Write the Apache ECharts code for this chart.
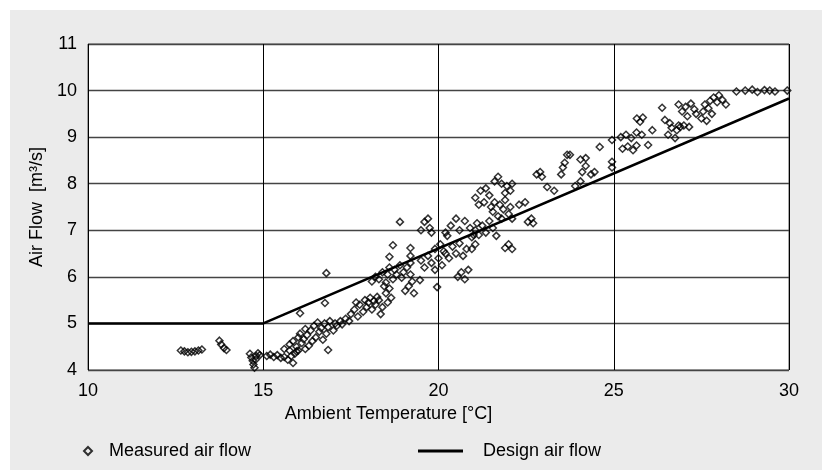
<!DOCTYPE html>
<html>
<head>
<meta charset="utf-8">
<script src="https://cdn.jsdelivr.net/npm/echarts@6/dist/echarts.min.js"></script>
<style>
html,body{margin:0;padding:0;background:#fff;}
#chart{width:822px;height:470px;}
</style>
</head>
<body>
<div id="chart"></div>
<script>
// Measured air flow: [ambient temperature °C, air flow m3/s]
const measuredAirFlow = [
  [12.65,4.42],[12.75,4.40],[12.85,4.38],[12.95,4.39],[13.05,4.40],[13.15,4.42],[13.25,4.44],
  [13.75,4.63],[13.8,4.55],[13.88,4.47],[13.95,4.43],
  [14.62,4.35],[14.66,4.27],[14.7,4.20],[14.72,4.12],[14.75,4.05],[14.8,4.30],[14.85,4.36],[14.9,4.32],[14.78,4.22],
  [15.1,4.30],[15.2,4.33],[15.3,4.28],[15.4,4.32],[15.5,4.26],[15.6,4.28],[15.7,4.22],[15.8,4.30],[15.9,4.35],[15.85,4.15],[15.95,4.40],[15.75,4.42],[15.6,4.45],
  [15.75,4.55],[15.85,4.62],[15.95,4.50],[16.0,4.70],[16.05,4.78],[16.1,4.58],[16.15,4.66],[16.2,4.45],[16.25,4.75],[16.3,4.52],[16.35,4.85],[16.4,4.62],[16.0,4.42],[16.2,4.88],
  [16.45,4.95],[16.5,4.70],[16.55,5.02],[16.6,4.82],[16.65,4.90],[16.7,4.65],[16.75,5.00],[16.8,4.78],[16.85,4.92],[16.9,5.05],[17.0,4.85],[17.05,5.00],[17.1,4.95],[17.2,5.05],[17.25,4.98],[17.35,5.10],[17.45,5.05],[16.85,4.43],[16.05,5.22],[16.76,5.44],[16.8,6.08],
  [17.5,5.20],[17.6,5.30],[17.7,5.15],[17.75,5.40],[17.85,5.25],[17.9,5.50],[17.95,5.35],[18.0,5.45],[18.05,5.55],[18.1,5.30],[18.15,5.48],[18.2,5.40],[18.25,5.57],[18.3,5.50],[17.65,5.45],[18.35,5.20],
  [18.1,5.90],[18.2,6.00],[18.3,5.95],[18.4,6.10],[18.5,5.88],[18.55,6.05],[18.6,6.20],[18.7,5.95],[18.75,6.15],[18.8,6.05],[18.9,6.25],[18.95,5.98],[19.0,6.10],[19.1,6.20],[19.2,6.05],[19.2,6.30],[19.2,6.45],[19.2,6.62],[19.25,5.90],
  [18.45,5.80],[18.5,5.65],[18.55,5.45],[18.6,5.75],[18.65,5.55],[18.4,5.35],[19.05,5.70],[19.15,5.80],[19.3,5.65],
  [18.9,7.18],[18.7,6.68],[18.6,6.43],[19.47,5.93],[19.96,5.78],
  [19.5,7.00],[19.6,7.18],[19.7,7.25],[19.75,7.05],[19.8,6.95],
  [20.2,6.95],[20.35,7.10],[20.5,7.25],[20.6,7.00],[20.75,7.20],[20.9,7.05],[21.0,6.90],[21.1,7.15],[20.25,6.88],
  [19.5,6.35],[19.6,6.20],[19.7,6.45],[19.8,6.30],[19.9,6.15],[20.0,6.40],[20.1,6.25],[20.2,6.50],
  [19.9,6.60],[20.05,6.70],[20.15,6.55],[20.3,6.40],[20.4,6.65],[20.5,6.50],[20.6,6.72],[20.7,6.45],[20.8,6.60],
  [20.55,6.00],[20.65,6.10],[20.75,5.95],[20.85,6.15],
  [20.95,6.85],[21.05,7.00],[21.15,6.90],[21.25,7.10],[21.35,6.95],[21.45,7.20],[21.55,7.05],[21.65,6.88],
  [20.95,6.60],[21.05,6.70],[21.9,6.62],[22.0,6.70],[22.1,6.60],
  [21.05,7.70],[21.15,7.55],[21.2,7.85],[21.3,7.60],[21.35,7.90],[21.45,7.75],[21.5,7.50],
  [21.55,7.40],[21.6,7.60],[21.7,7.30],[21.75,7.55],[21.8,7.25],[21.85,7.45],[21.9,7.65],[22.0,7.35],[22.05,7.50],[22.1,7.25],
  [21.6,8.05],[21.7,8.15],[21.8,8.00],
  [21.9,7.80],[21.95,7.95],[22.05,7.85],[22.1,8.00],
  [23.1,7.93],[22.47,7.60],[22.55,7.18],[22.65,7.25],[22.7,7.15],
  [22.8,8.20],[22.9,8.25],[22.95,8.15],
  [23.5,8.20],[23.55,8.35],[23.6,8.45],[23.67,8.62],
  [22.3,7.55],[23.3,7.85],[23.9,7.95],
  [23.75,8.62],[24.05,8.52],[24.2,8.55],[24.05,8.05],[24.1,8.25],[24.2,8.38],[24.35,8.20],[24.45,8.25],[24.95,8.35],[24.95,8.47],[24.6,8.79],[24.95,8.94],
  [25.2,9.00],[25.35,9.05],[25.5,8.98],[25.65,9.10],[25.8,9.05],[25.25,8.75],[25.4,8.80],[25.55,8.72],[25.65,8.82],[25.98,8.83],[25.66,9.40],[25.75,9.33],[25.83,9.42],[26.1,9.15],
  [26.38,9.63],[26.46,9.37],[26.55,9.05],[26.65,9.20],[26.75,8.98],[26.85,9.25],[26.6,9.30],[26.8,9.15],
  [26.85,9.70],[26.95,9.55],[27.05,9.65],[27.1,9.45],[27.2,9.72],[27.3,9.60],[27.35,9.50],[26.9,9.22],[27.0,9.25],[27.15,9.22],
  [27.5,9.40],[27.55,9.55],[27.6,9.70],[27.65,9.35],[27.7,9.62],[27.75,9.78],[27.8,9.50],
  [27.85,9.85],[27.95,9.75],[28.0,9.90],[28.1,9.80],[28.2,9.70],
  [28.5,9.98],[28.75,10.0],[28.95,10.02],[29.1,9.97],[29.3,10.01],[29.45,10.0],[29.6,9.98],[29.95,10.0]
];
// Design air flow: [ambient temperature °C, air flow m3/s]
const designAirFlow = [[10,5],[15,5],[30,9.83]];
const xTicks = [10, 15, 20, 25, 30];
const yTicks = [4, 5, 6, 7, 8, 9, 10, 11];
const seriesNames = ['Measured air flow', 'Design air flow'];

const font = 'Liberation Sans, Arial, sans-serif';
const FS = 18;
const chart = echarts.init(document.getElementById('chart'), null, {renderer: 'canvas'});
chart.setOption({
  backgroundColor: '#ffffff',
  animation: false,
  textStyle: {fontFamily: font},
  graphic: [{
    type: 'rect', left: 10, top: 10, z: -100, silent: true,
    shape: {width: 812, height: 460},
    style: {fill: '#ebebeb'}
  }],
  grid: {
    left: 88, right: 33, top: 44, bottom: 100,
    show: true, backgroundColor: '#ffffff', borderColor: '#555', borderWidth: 1
  },
  legend: [{
    data: [seriesNames[0]], left: 78, top: 437,
    itemWidth: 8, itemHeight: 8,
    textStyle: {fontFamily: font, fontSize: FS, color: '#000', padding: [0, 0, 0, 12]}
  }, {
    data: [{name: seriesNames[1], icon: 'rect'}], left: 413, top: 437,
    itemWidth: 45, itemHeight: 3,
    textStyle: {fontFamily: font, fontSize: FS, color: '#000', padding: [0, 0, 0, 15]}
  }],
  xAxis: {
    type: 'value', min: xTicks[0], max: xTicks[xTicks.length - 1], interval: 5,
    name: 'Ambient Temperature [°C]', nameLocation: 'middle', nameGap: 35,
    nameTextStyle: {fontFamily: font, fontSize: FS, color: '#000', padding: [0, 100, 0, 0]},
    axisLine: {show: false}, axisTick: {show: false},
    axisLabel: {fontFamily: font, fontSize: FS, color: '#000', margin: 12},
    splitLine: {show: true, lineStyle: {color: '#000', width: 1}}
  },
  yAxis: {
    type: 'value', min: yTicks[0], max: yTicks[yTicks.length - 1], interval: 1,
    name: 'Air Flow  [m³/s]', nameLocation: 'middle', nameGap: 41, nameRotate: 90,
    nameTextStyle: {fontFamily: font, fontSize: FS, color: '#000'},
    axisLine: {show: false}, axisTick: {show: false},
    axisLabel: {fontFamily: font, fontSize: FS, color: '#000', margin: 11, padding: [5, 0, 0, 0]},
    splitLine: {show: true, lineStyle: {color: '#444', width: 1.3}}
  },
  series: [{
    name: seriesNames[0], type: 'scatter', data: measuredAirFlow,
    symbol: 'diamond', symbolSize: 7,
    itemStyle: {color: 'rgba(255,255,255,0)', borderColor: '#000', borderWidth: 1.5}
  }, {
    name: seriesNames[1], type: 'line', data: designAirFlow,
    symbol: 'none', showSymbol: false,
    itemStyle: {color: '#000'},
    lineStyle: {color: '#000', width: 2.5}
  }]
});
</script>
</body>
</html>
